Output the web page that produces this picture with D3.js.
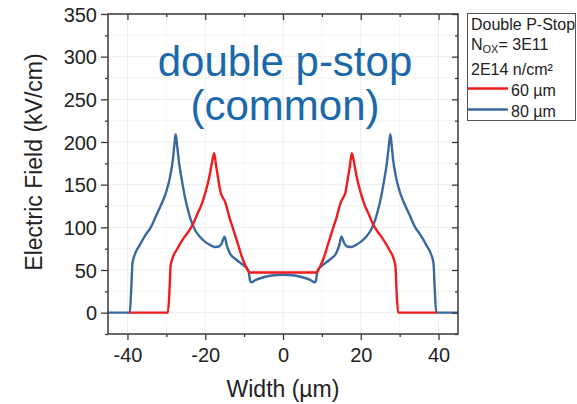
<!DOCTYPE html>
<html>
<head>
<meta charset="utf-8">
<script src="https://cdn.jsdelivr.net/npm/d3@7"></script>
<style>
  html, body { margin: 0; padding: 0; background: #fff; }
  svg { display: block; font-family: "Liberation Sans", Arial, sans-serif; }
</style>
</head>
<body>
<svg id="chart" width="577" height="404"></svg>
<script>
// Electric field profile across the strip, two bulk thicknesses
const width60 = [-39.5, -29.6, -29.2, -28.9, -28.4, -27.3, -25.6, -24, -23, -22, -21, -20, -19, -18.3, -17.7,
  -17.2, -16.6, -16, -15.5, -15, -14.5, -13.8, -12.8, -11.5, -10.3, -9.4, -8.8, -8.5, 0,
  8.5, 8.8, 9.4, 10.3, 11.5, 12.8, 13.8, 14.5, 15, 15.5, 16, 16.6, 17.2, 17.7,
  18.3, 19, 20, 21, 22, 23, 24, 25.6, 27.3, 28.4, 28.9, 29.2, 29.6, 39.5];
const field60 = [0, 0, 25, 55, 64, 74, 87, 97, 105, 116, 126, 140, 158, 175, 187,
  172, 155, 140, 135, 131, 124, 112, 98, 79, 62, 53, 48, 47, 47,
  47, 48, 53, 62, 79, 98, 112, 124, 131, 135, 140, 155, 172, 187,
  175, 158, 140, 126, 116, 105, 97, 87, 74, 64, 55, 25, 0, 0];

const width80 = [-45, -39.4, -39.0, -38.7, -38.2, -37, -35.5, -34, -32.5, -31, -30, -29, -28.3, -27.9, -27.6,
  -27.2, -26.7, -26, -25.2, -24.3, -23.5, -22.5, -21.4, -20, -18.8, -17.5, -16.5, -15.8, -15, -14.5, -13.7,
  -12, -10.3, -9, -8.8, -8.5, -8.2, -7, -5, -3, 0,
  3, 5, 7, 8.2, 8.5, 8.8, 9, 10.3, 12,
  13.7, 14.5, 15, 15.8, 16.5, 17.5, 18.8, 20, 21.4, 22.5, 23.5, 24.3, 25.2, 26, 26.7, 27.2,
  27.6, 27.9, 28.3, 29, 30, 31, 32.5, 34, 35.5, 37, 38.2, 38.7, 39.0, 39.4, 45];
const field80 = [0, 0, 30, 58, 67, 78, 90, 100, 115, 130, 142, 160, 180, 198, 209,
  195, 175, 155, 135, 118, 106, 96, 89, 83, 79.5, 77, 77.5, 81, 89, 79.5, 70,
  62, 56, 50, 48, 38, 35.5, 38.5, 41.5, 43.5, 44.5,
  43.5, 41.5, 38.5, 35.5, 38, 48, 50, 56, 62,
  70, 79.5, 89, 81, 77.5, 77, 79.5, 83, 89, 96, 106, 118, 135, 155, 175, 195,
  209, 198, 180, 160, 142, 130, 115, 100, 90, 78, 67, 58, 30, 0, 0];

const xTicks = [-40, -20, 0, 20, 40];
const xMinor = [-30, -10, 10, 30];
const yTicks = [0, 50, 100, 150, 200, 250, 300, 350];
const yMinor = [-25, 25, 75, 125, 175, 225, 275, 325];

const legendLines = ["Double P-Stop", "= 3E11", "2E14 n/cm²"];
const seriesNames = ["60 µm", "80 µm"];
const colors = ["#ee1c1c", "#3a68a0"];

const svg = d3.select("#chart");
const L = 108, R = 458, T = 14, B = 334;
const x = d3.scaleLinear().domain([-45, 45]).range([L, R]);
const y = d3.scaleLinear().domain([-25, 350]).range([B, T]);
const axisColor = "#3a3a3a";

// grid
const grid = svg.append("g");
grid.selectAll(".gxm").data(xMinor).enter().append("line")
  .attr("x1", d => x(d)).attr("x2", d => x(d)).attr("y1", T).attr("y2", B)
  .attr("stroke", "#f4f4f4").attr("stroke-width", 1);
grid.selectAll(".gym").data(yMinor).enter().append("line")
  .attr("y1", d => y(d)).attr("y2", d => y(d)).attr("x1", L).attr("x2", R)
  .attr("stroke", "#f4f4f4").attr("stroke-width", 1);
grid.selectAll(".gx").data(xTicks).enter().append("line")
  .attr("x1", d => x(d)).attr("x2", d => x(d)).attr("y1", T).attr("y2", B)
  .attr("stroke", "#ececec").attr("stroke-width", 1);
grid.selectAll(".gy").data(yTicks).enter().append("line")
  .attr("y1", d => y(d)).attr("y2", d => y(d)).attr("x1", L).attr("x2", R)
  .attr("stroke", "#ececec").attr("stroke-width", 1);

// title inside the plot
const title = svg.append("g").attr("fill", "#1b69aa").attr("font-size", 42).attr("text-anchor", "middle");
title.append("text").attr("x", 285).attr("y", 76).text("double p-stop");
title.append("text").attr("x", 285).attr("y", 120).text("(common)");

// curves
const line = d3.line().x(d => x(d[0])).y(d => y(d[1])).curve(d3.curveMonotoneX);
svg.append("path").datum(d3.zip(width80, field80)).attr("d", line)
  .attr("fill", "none").attr("stroke", colors[1]).attr("stroke-width", 2.4).attr("stroke-linejoin", "round");
svg.append("path").datum(d3.zip(width60, field60)).attr("d", line)
  .attr("fill", "none").attr("stroke", colors[0]).attr("stroke-width", 2.4).attr("stroke-linejoin", "round");

// axes
const fmt = d => String(d);
const ax = svg.append("g").attr("transform", `translate(0,${B})`)
  .call(d3.axisBottom(x).tickValues(xTicks).tickSize(6).tickPadding(8).tickFormat(fmt));
const axm = svg.append("g").attr("transform", `translate(0,${B})`)
  .call(d3.axisBottom(x).tickValues(xMinor).tickSize(3).tickFormat(""));
const axt = svg.append("g").attr("transform", `translate(0,${T})`)
  .call(d3.axisBottom(x).tickValues(xTicks).tickSize(6).tickFormat(""));
const axtm = svg.append("g").attr("transform", `translate(0,${T})`)
  .call(d3.axisBottom(x).tickValues(xMinor).tickSize(3).tickFormat(""));
const ay = svg.append("g").attr("transform", `translate(${L},0)`)
  .call(d3.axisLeft(y).tickValues(yTicks).tickSize(7).tickPadding(4).tickFormat(fmt));
const aym = svg.append("g").attr("transform", `translate(${L},0)`)
  .call(d3.axisLeft(y).tickValues(yMinor).tickSize(3).tickFormat(""));
const ar = svg.append("g").attr("transform", `translate(${R},0)`)
  .call(d3.axisLeft(y).tickValues(yTicks).tickSize(6).tickFormat(""));
const arm = svg.append("g").attr("transform", `translate(${R},0)`)
  .call(d3.axisLeft(y).tickValues(yMinor).tickSize(3).tickFormat(""));

[ax, axm, axt, axtm, ay, aym, ar, arm].forEach(g => {
  g.select(".domain").remove();
  g.selectAll("line").attr("stroke", axisColor).attr("stroke-width", 1.3);
  g.selectAll("text").attr("fill", "#222").attr("font-size", 20)
    .attr("font-family", "Liberation Sans, Arial, sans-serif");
});
ay.selectAll("text").attr("dy", "0.35em");

// frame
svg.append("rect").attr("x", L).attr("y", T).attr("width", R - L).attr("height", B - T)
  .attr("fill", "none").attr("stroke", axisColor).attr("stroke-width", 1.5);

// axis titles
svg.append("text").attr("x", 283).attr("y", 397).attr("text-anchor", "middle")
  .attr("font-size", 23).attr("fill", "#222").text("Width (µm)");
svg.append("text").attr("transform", "translate(42,162) rotate(-90)").attr("text-anchor", "middle")
  .attr("font-size", 23).attr("fill", "#222").text("Electric Field (kV/cm)");

// legend
const lg = svg.append("g");
lg.append("rect").attr("x", 467.5).attr("y", 13.5).attr("width", 108).attr("height", 107)
  .attr("fill", "#fff").attr("stroke", "#555").attr("stroke-width", 1);
const lt = lg.append("g").attr("font-size", 16).attr("fill", "#222");
lt.append("text").attr("x", 471).attr("y", 30).text(legendLines[0]);
const nox = lt.append("text").attr("x", 471).attr("y", 50);
nox.append("tspan").text("N");
nox.append("tspan").attr("font-size", 11).attr("dy", 3).text("OX");
nox.append("tspan").attr("dy", -3).text(legendLines[1]);
lt.append("text").attr("x", 471).attr("y", 75).text(legendLines[2]);
const rows = [88.5, 109.5];
seriesNames.forEach((name, i) => {
  lg.append("line").attr("x1", 468).attr("x2", 508).attr("y1", rows[i]).attr("y2", rows[i])
    .attr("stroke", colors[i]).attr("stroke-width", 2.4);
  lt.append("text").attr("x", 511).attr("y", rows[i] + 7.5).text(name);
});
</script>
</body>
</html>
